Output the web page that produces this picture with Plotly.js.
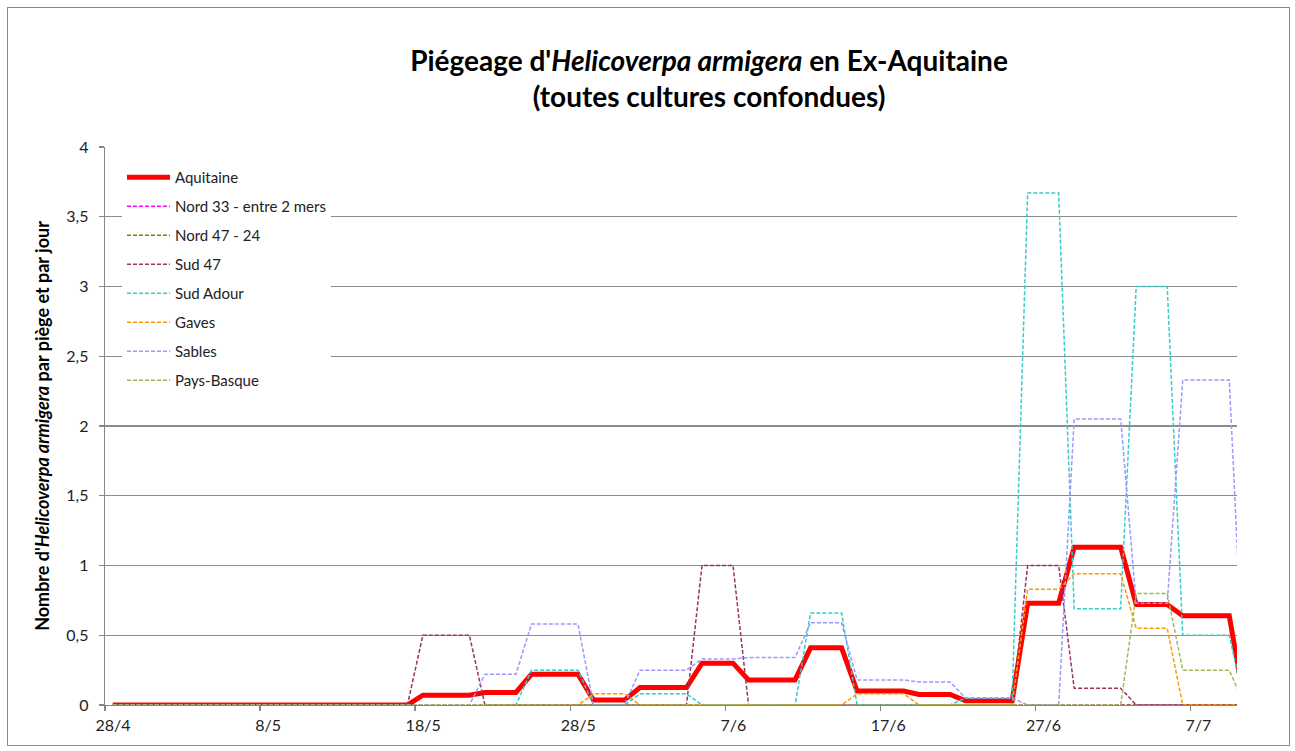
<!DOCTYPE html>
<html>
<head>
<meta charset="utf-8">
<script src="https://cdn.plot.ly/plotly-3.0.1.min.js"></script>
<style>
  html, body { margin: 0; padding: 0; background: #fff; }
  #chart { width: 1295px; height: 751px; }
  #frame { position: absolute; left: 7px; top: 7px; width: 1281px; height: 737px; border: 1px solid #8a8a8a; pointer-events: none; }
</style>
</head>
<body>
<div id="chart"></div>
<div id="frame"></div>
<script>
// Daily dates: 28/4 .. 10/7 (one trap value per day, plotted at mid-day)
const startDate = '2017-04-28';
const nDays = 74;

const seriesNames = ['Aquitaine', 'Nord 33 - entre 2 mers', 'Nord 47 - 24', 'Sud 47', 'Sud Adour', 'Gaves', 'Sables', 'Pays-Basque'];
const seriesColors = ['#FF0000', '#FF00FF', '#808000', '#993366', '#33CCCC', '#FF9900', '#9999FF', '#9BBB59'];

const aquitaine = [
  0,0,0,0,0,0,0,0,0,0,0,0,0,0,0,0,0,0,0,0,
  0.07,0.07,0.07,0.07,
  0.09,0.09,0.09,
  0.22,0.22,0.22,0.22,
  0.035,0.035,0.035,
  0.125,0.125,0.125,0.125,
  0.30,0.30,0.30,
  0.18,0.18,0.18,0.18,
  0.41,0.41,0.41,
  0.10,0.10,0.10,0.10,
  0.075,0.075,0.075,
  0.03,0.03,0.03,0.03,
  0.73,0.73,0.73,
  1.13,1.13,1.13,1.13,
  0.72,0.72,0.72,
  0.64,0.64,0.64,0.64,
  0
];
const nord33 = [
  0,0,0,0,0,0,0,0,0,0,0,0,0,0,0,0,0,0,0,0,0,0,0,0,0,0,0,0,0,0,0,0,0,0,0,0,0,
  0,0,0,0,0,0,0,0,0,0,0,0,0,0,0,0,0,0,0,0,0,0,0,0,0,0,0,0,0,0,0,0,0,0,0,0,0
];
const nord47_24 = [
  0,0,0,0,0,0,0,0,0,0,0,0,0,0,0,0,0,0,0,0,0,0,0,0,0,0,0,0,0,0,0,0,0,0,0,0,0,
  0,0,0,0,0,0,0,0,0,0,0,0,0,0,0,0,0,0,0,0,0,0,0,0,0,0,0,0,0,0,0,0,0,0,0,0,0
];
const sud47 = [
  0,0,0,0,0,0,0,0,0,0,0,0,0,0,0,0,0,0,0,0,
  0.5,0.5,0.5,0.5,
  0,0,0,0,0,0,0,0,0,0,0,0,0,0,
  1,1,1,
  0,0,0,0,0,0,0,0,0,0,0,0,0,0,0,0,0,0,
  1,1,1,
  0.12,0.12,0.12,0.12,
  0,0,0,0,0,0,0,0
];
const sudAdour = [
  0,0,0,0,0,0,0,0,0,0,0,0,0,0,0,0,0,0,0,0,0,0,0,0,0,0,0,
  0.25,0.25,0.25,0.25,
  0,0,0,
  0.08,0.08,0.08,0.08,
  0,0,0,0,0,0,0,
  0.66,0.66,0.66,
  0,0,0,0,0,0,0,
  0.05,0.05,0.05,0.05,
  3.67,3.67,3.67,
  0.69,0.69,0.69,0.69,
  3.0,3.0,3.0,
  0.5,0.5,0.5,0.5,
  0
];
const gaves = [
  0,0,0,0,0,0,0,0,0,0,0,0,0,0,0,0,0,0,0,0,0,0,0,0,0,0,0,0,0,0,0,
  0.08,0.08,0.08,
  0,0,0,0,0,0,0,0,0,0,0,0,0,0,
  0.08,0.08,0.08,0.08,
  0,0,0,0,0,0,0,
  0.83,0.83,0.83,
  0.94,0.94,0.94,0.94,
  0.55,0.55,0.55,
  0,0,0,0,0
];
const sables = [
  0,0,0,0,0,0,0,0,0,0,0,0,0,0,0,0,0,0,0,0,0,0,0,0,
  0.22,0.22,0.22,
  0.58,0.58,0.58,0.58,
  0,0,0,
  0.25,0.25,0.25,0.25,
  0.33,0.33,0.33,
  0.34,0.34,0.34,0.34,
  0.59,0.59,0.59,
  0.18,0.18,0.18,0.18,
  0.165,0.165,0.165,
  0.05,0.05,0.05,0.05,
  0,0,0,
  2.05,2.05,2.05,2.05,
  0.73,0.73,0.73,
  2.33,2.33,2.33,2.33,
  0
];
const paysBasque = [
  0,0,0,0,0,0,0,0,0,0,0,0,0,0,0,0,0,0,0,0,0,0,0,0,0,0,0,0,0,0,0,0,0,
  0,0,0,0,0,0,0,0,0,0,0,0,0,0,0,0,0,0,0,0,0,0,0,0,0,0,0,0,0,0,0,0,0,
  0.8,0.8,0.8,
  0.25,0.25,0.25,0.25,
  0
];

const yTickVals = [0, 0.5, 1, 1.5, 2, 2.5, 3, 3.5, 4];
const yTickText = ['0', '0,5', '1', '1,5', '2', '2,5', '3', '3,5', '4'];

// dates at mid-day of each day
const dates = [];
{
  const base = new Date(startDate + 'T12:00:00Z');
  for (let i = 0; i < nDays; i++) {
    const d = new Date(base.getTime() + i * 86400000);
    dates.push(d.toISOString().slice(0, 10) + ' 12:00');
  }
}

const allValues = [aquitaine, nord33, nord47_24, sud47, sudAdour, gaves, sables, paysBasque];
const FONT = 'Lato, "Open Sans", sans-serif';

const traces = allValues.map((vals, i) => ({
  x: dates,
  y: vals,
  type: 'scatter',
  mode: 'lines',
  name: seriesNames[i],
  legendgroup: 'g' + i,
  line: i === 0
    ? { color: seriesColors[i], width: 5 }
    : { color: seriesColors[i], width: 1.5, dash: '4px,2px' },
  hoverinfo: 'x+y+name'
}));

const layout = {
  width: 1295,
  height: 751,
  paper_bgcolor: '#ffffff',
  plot_bgcolor: '#ffffff',
  margin: { l: 105, r: 58, t: 147, b: 46 },
  separators: ', ',
  font: { family: FONT, size: 15, color: '#222' },
  title: {
    text: "Piégeage d'<i>Helicoverpa armigera</i> en Ex-Aquitaine<br>(toutes cultures confondues)",
    font: { family: FONT, size: 28, color: '#000', weight: 'bold' },
    x: 709 / 1295,
    xref: 'container',
    xanchor: 'center',
    y: 1 - 71 / 751,
    yref: 'container',
    yanchor: 'top'
  },
  xaxis: {
    type: 'date',
    range: ['2017-04-28 00:00', '2017-07-10 00:00'],
    tickmode: 'linear',
    tick0: '2017-04-28',
    dtick: 864000000,
    tickformat: '%-d/%-m',
    ticklabelshift: 8,
    ticks: 'outside',
    ticklen: 5,
    tickwidth: 1.3,
    tickcolor: '#868686',
    showline: true,
    linecolor: '#868686',
    linewidth: 1.3,
    showgrid: false,
    zeroline: false,
    tickfont: { family: FONT, size: 16, color: '#222' },
    fixedrange: true
  },
  yaxis: {
    range: [0, 4],
    tickmode: 'array',
    tickvals: yTickVals,
    ticktext: yTickText,
    ticks: 'outside',
    ticklen: 5,
    tickwidth: 1.3,
    tickcolor: '#868686',
    ticklabelstandoff: 7,
    showline: true,
    linecolor: '#868686',
    linewidth: 1.3,
    showgrid: true,
    gridcolor: '#8c8c8c',
    gridwidth: 1.2,
    zeroline: false,
    tickfont: { family: FONT, size: 16, color: '#222' },
    title: {
      text: "Nombre d'<i>Helicoverpa armigera</i> par piège et par jour",
      font: { family: FONT, size: 18, color: '#000', weight: 'bold' },
      standoff: 12
    },
    fixedrange: true
  },
  showlegend: true,
  legend: {
    x: 0.015,
    y: 0.975,
    xanchor: 'left',
    yanchor: 'top',
    bgcolor: '#ffffff',
    borderwidth: 0,
    font: { family: FONT, size: 15, color: '#222' },
    tracegroupgap: 6.5,
    itemwidth: 43,
    traceorder: 'grouped'
  }
};

Plotly.newPlot('chart', traces, layout, { staticPlot: true, displayModeBar: false });
</script>
</body>
</html>
